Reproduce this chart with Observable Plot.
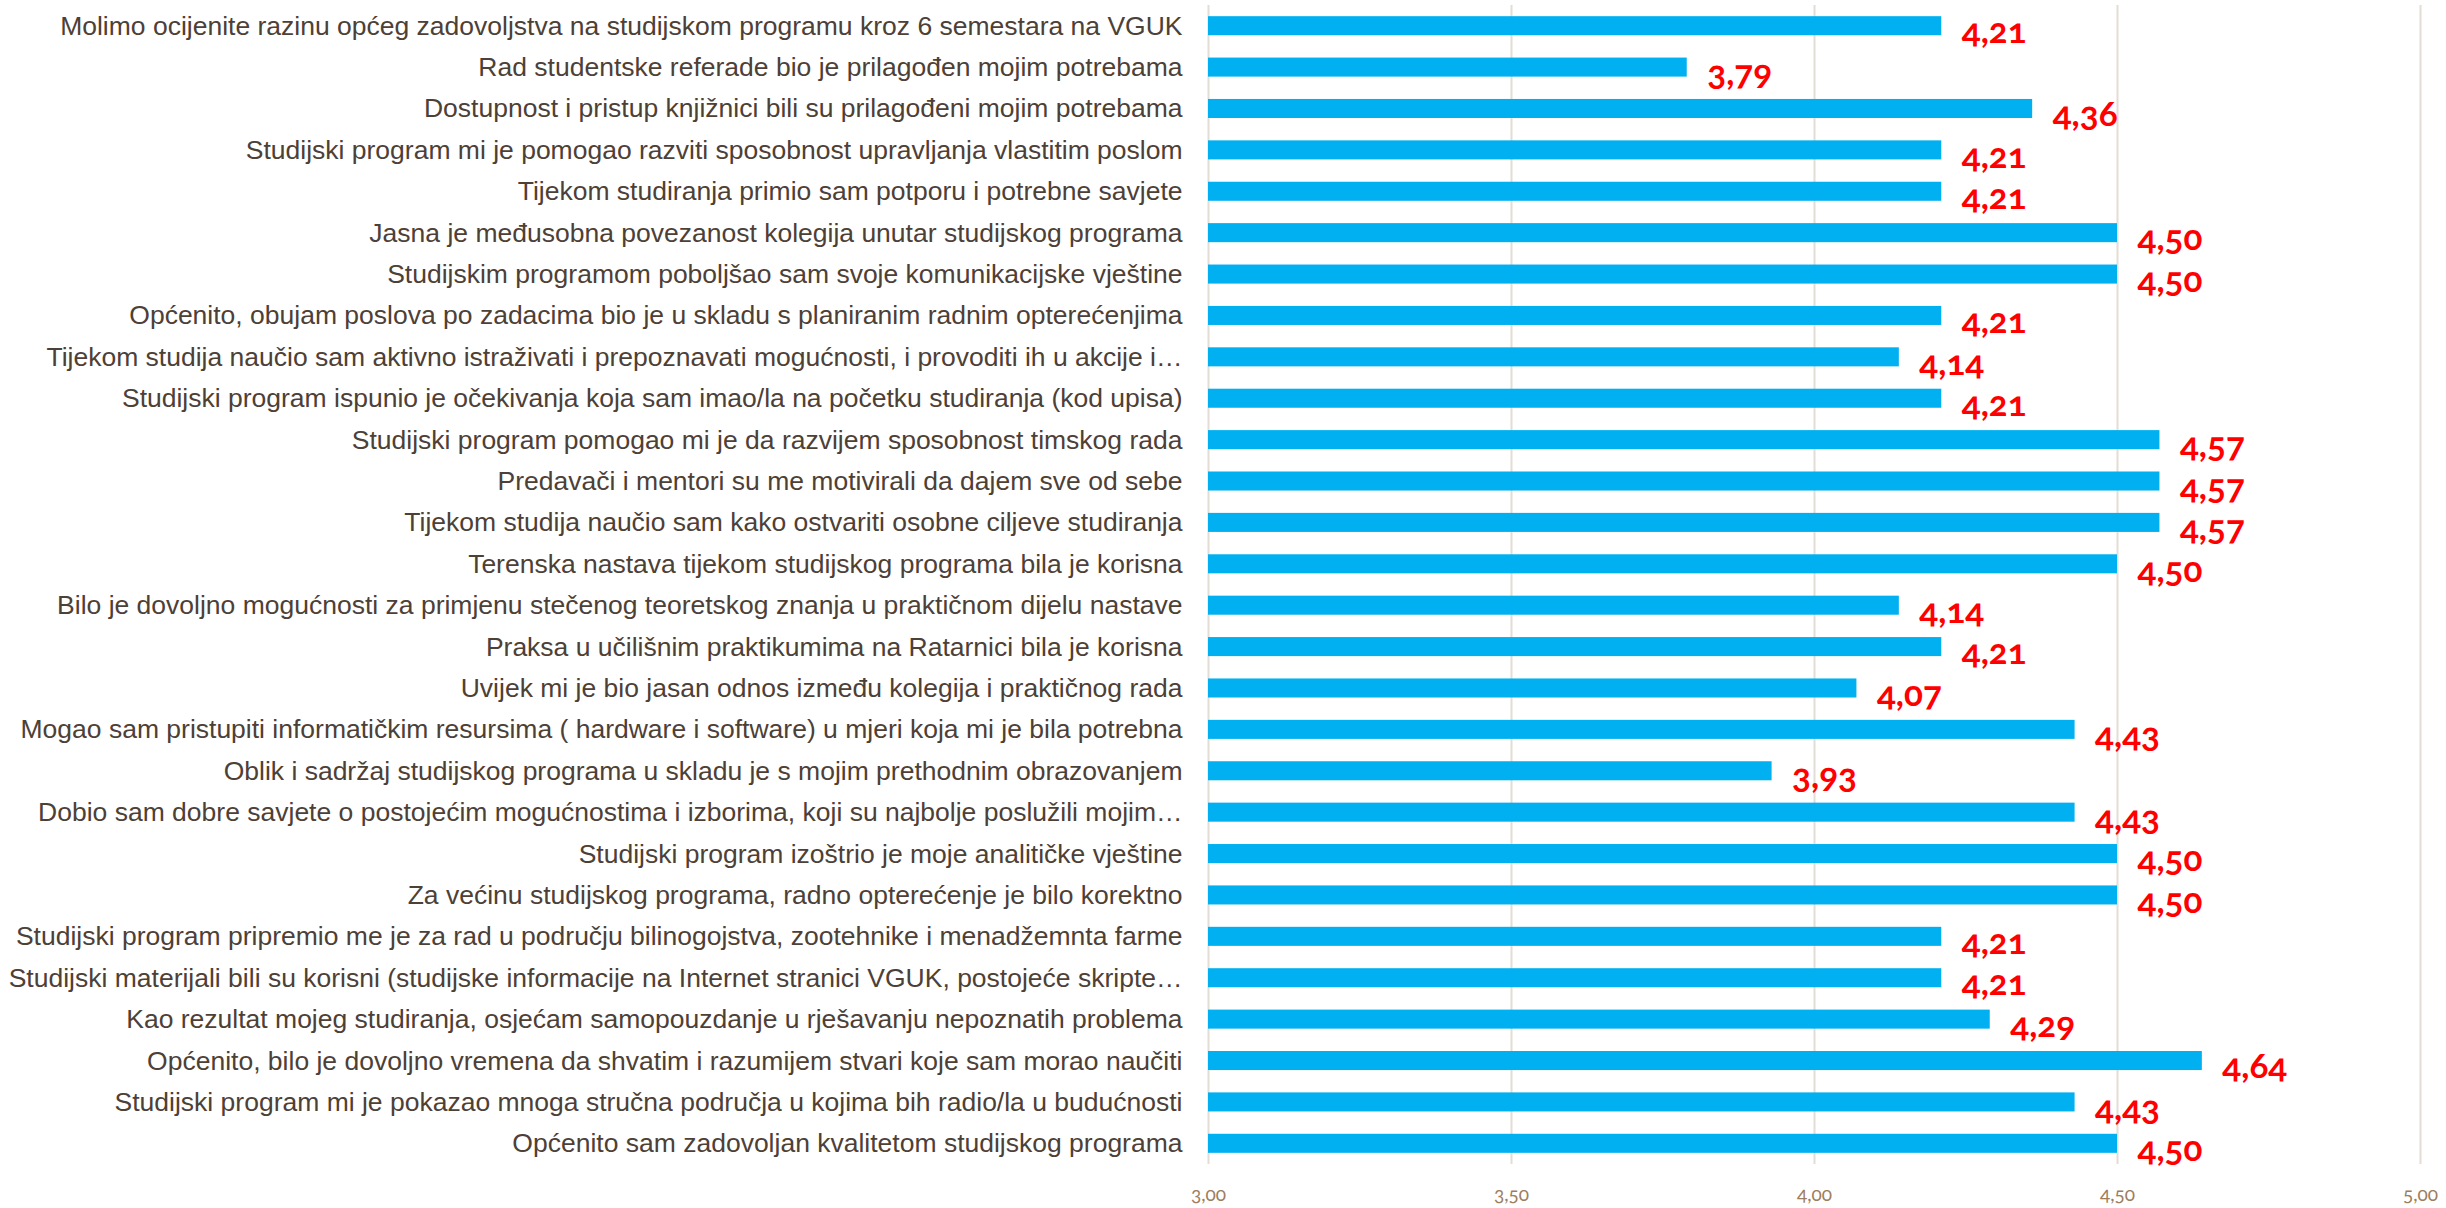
<!DOCTYPE html>
<html>
<head>
<meta charset="utf-8">
<script src="https://cdn.jsdelivr.net/npm/d3@7"></script>
<script src="https://cdn.jsdelivr.net/npm/@observablehq/plot@0.6"></script>
<style>
  html, body { margin: 0; padding: 0; background: #ffffff; }
  #chart { width: 2446px; height: 1208px; overflow: hidden; }
</style>
</head>
<body>
<div id="chart"></div>
<script>
const questions = [
  "Molimo ocijenite razinu općeg zadovoljstva na studijskom programu kroz 6 semestara na VGUK",
  "Rad studentske referade bio je prilagođen mojim potrebama",
  "Dostupnost i pristup knjižnici bili su prilagođeni mojim potrebama",
  "Studijski program mi je pomogao razviti sposobnost upravljanja vlastitim poslom",
  "Tijekom studiranja primio sam potporu i potrebne savjete",
  "Jasna je međusobna povezanost kolegija unutar studijskog programa",
  "Studijskim programom poboljšao sam svoje komunikacijske vještine",
  "Općenito, obujam poslova po zadacima bio je u skladu s planiranim radnim opterećenjima",
  "Tijekom studija naučio sam aktivno istraživati i prepoznavati mogućnosti, i provoditi ih u akcije i…",
  "Studijski program ispunio je očekivanja koja sam imao/la na početku studiranja (kod upisa)",
  "Studijski program pomogao mi je da razvijem sposobnost timskog rada",
  "Predavači i mentori su me motivirali da dajem sve od sebe",
  "Tijekom studija naučio sam kako ostvariti osobne ciljeve studiranja",
  "Terenska nastava tijekom studijskog programa bila je korisna",
  "Bilo je dovoljno mogućnosti za primjenu stečenog teoretskog znanja u praktičnom dijelu nastave",
  "Praksa u učilišnim praktikumima na Ratarnici bila je korisna",
  "Uvijek mi je bio jasan odnos između kolegija i praktičnog rada",
  "Mogao sam pristupiti informatičkim resursima ( hardware i software) u mjeri koja mi je bila potrebna",
  "Oblik i sadržaj studijskog programa u skladu je s mojim prethodnim obrazovanjem",
  "Dobio sam dobre savjete o postojećim mogućnostima i izborima, koji su najbolje poslužili mojim…",
  "Studijski program izoštrio je moje analitičke vještine",
  "Za većinu studijskog programa, radno opterećenje je bilo korektno",
  "Studijski program pripremio me je za rad u području bilinogojstva, zootehnike i menadžemnta farme",
  "Studijski materijali bili su korisni (studijske informacije na Internet stranici VGUK, postojeće skripte…",
  "Kao rezultat mojeg studiranja, osjećam samopouzdanje u rješavanju nepoznatih problema",
  "Općenito, bilo je dovoljno vremena da shvatim i razumijem stvari koje sam morao naučiti",
  "Studijski program mi je pokazao mnoga stručna područja u kojima bih radio/la u budućnosti",
  "Općenito sam zadovoljan kvalitetom studijskog programa"
];
const scores = [
  4.21, 3.79, 4.36, 4.21, 4.21, 4.50, 4.50, 4.21, 4.14, 4.21,
  4.57, 4.57, 4.57, 4.50, 4.14, 4.21, 4.07, 4.43, 3.93, 4.43,
  4.50, 4.50, 4.21, 4.21, 4.29, 4.64, 4.43, 4.50
];
const xTicks = [3.0, 3.5, 4.0, 4.5, 5.0];

const data = questions.map((q, i) => ({question: q, score: scores[i]}));
const fmt = v => v.toFixed(2).replace(".", ",");

const chart = Plot.plot({
  width: 2446,
  height: 1208,
  marginLeft: 1208,
  marginRight: 26,
  marginTop: 5,
  marginBottom: 44,
  style: {
    fontFamily: "'Liberation Sans', Arial, sans-serif",
    background: "#ffffff",
    color: "#4d4036",
    overflow: "visible"
  },
  x: {domain: [3, 5], ticks: xTicks},
  y: {domain: questions, paddingInner: 0.54, paddingOuter: 0.27, round: false, label: null},
  marks: [
    Plot.ruleX(xTicks, {stroke: "#e3ddd6", strokeWidth: 2}),
    Plot.barX(data, {x1: 3, x2: "score", y: "question", fill: "#00b0f0"}),
    Plot.text(data, {
      x: "score", y: "question", text: d => fmt(d.score),
      textAnchor: "start", dx: 20, dy: 6,
      fill: "#ff0000", fontSize: 35, fontWeight: "bold",
      fontFamily: "Lato, 'Open Sans', sans-serif",
      fontVariant: "oldstyle-nums"
    }),
    Plot.axisY({tickSize: 0, tickPadding: 26, fontSize: 26.5, label: null, fill: "#4d4036"}),
    Plot.axisX(xTicks, {
      tickSize: 0, tickPadding: 23, fontSize: 19, label: null,
      tickFormat: fmt, fill: "#9c7e5e",
      fontFamily: "Lato, 'Open Sans', sans-serif",
      fontVariant: "oldstyle-nums"
    })
  ]
});
document.getElementById("chart").appendChild(chart);
</script>
</body>
</html>
